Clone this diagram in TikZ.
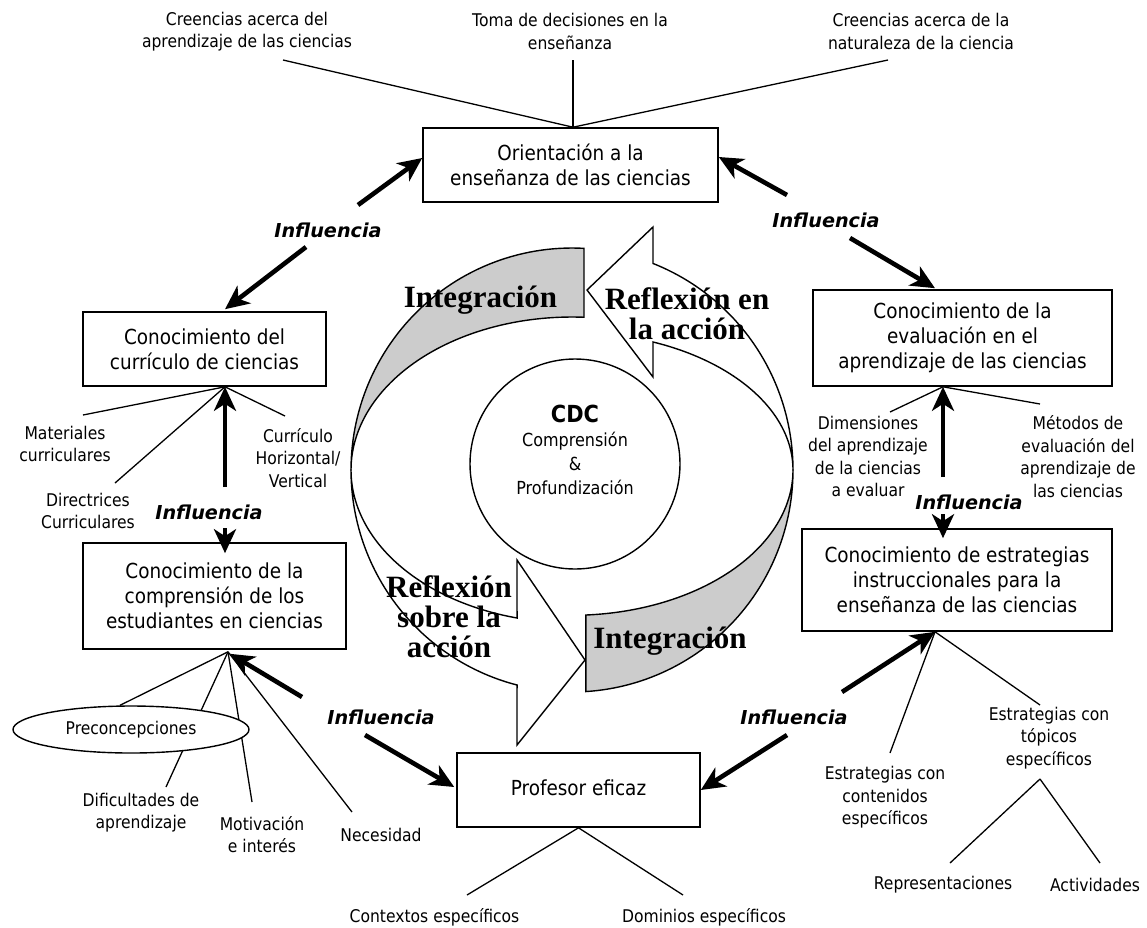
\documentclass[tikz,border=0pt]{standalone}
\usepackage{fontspec}
\setmainfont{DejaVu Sans}[FakeStretch=0.89]
\newfontfamily\inflfont{DejaVu Sans}
\newfontfamily\timesfont{Liberation Serif}
\usetikzlibrary{arrows.meta,calc,shapes.geometric}

\begin{document}
\begin{tikzpicture}[x=1pt,y=-1pt,
  box/.style={draw,line width=1.6pt,align=center,inner sep=0pt,fill=white,
              font=\fontsize{20.7}{25}\selectfont},
  lbl/.style={align=center,inner sep=0pt,font=\fontsize{17.5}{22.5}\selectfont},
  infl/.style={inner sep=0pt,font=\inflfont\fontsize{19.2}{22}\selectfont\bfseries\itshape},
  conn/.style={line width=1.3pt},
  inflarrow/.style={line width=4.6pt,-{Stealth[length=24pt,width=22pt,inset=7pt]}},
  band/.style={line width=1.4pt,line join=miter},
  bigtxt/.style={align=center,inner sep=0pt,font=\timesfont\bfseries\fontsize{31}{30}\selectfont}
]
\useasboundingbox (0,0) rectangle (1147,927);

% ---------- central cycle: two curved arrows and two grey bands ----------
% upper grey band
\draw[band,fill=gray!40]
  plot[domain=180:273.1,samples=60] ({572+221*cos(\x)},{470+222*sin(\x)})
  -- plot[domain=273.1:180,samples=60] ({572+221*cos(\x)},{470+153*sin(\x)}) -- cycle;
% upper white arrow pointing left
\draw[band,fill=white]
  plot[domain=360:291.5,samples=60] ({572+221*cos(\x)},{470+222*sin(\x)})
  -- (653,227) -- (587,290) -- (653,377)
  -- plot[domain=291.5:360,samples=60] ({572+221*cos(\x)},{470+137.6*sin(\x)}) -- cycle;
% lower white arrow pointing right
\draw[band,fill=white]
  plot[domain=180:104.4,samples=60] ({572+221*cos(\x)},{470+222*sin(\x)})
  -- (517,745) -- (585,660) -- (517,560)
  -- plot[domain=104.4:180,samples=60] ({572+221*cos(\x)},{470+152.8*sin(\x)}) -- cycle;
% lower grey band
\draw[band,fill=gray!40]
  plot[domain=0:86.4,samples=60] ({572+221*cos(\x)},{470+222*sin(\x)})
  -- plot[domain=86.4:0,samples=60] ({572+221*cos(\x)},{470+145.3*sin(\x)}) -- cycle;

% core circle
\node[circle,draw,line width=1.4pt,minimum size=210pt,inner sep=0pt] (cdc) at (575,464) {};
\node[align=center,inner sep=0pt,font=\fontsize{18}{24}\selectfont] (cdctext) at (575,450)
  {{\fontsize{23.5}{24}\selectfont\bfseries CDC}\\Comprensión\\\&\\Profundización};

% words on the cycle
\node[bigtxt] (integ1) at (480.5,300) {Integración};
\node[bigtxt] (refl1) at (687,314) {Reflexión en\\la acción};
\node[bigtxt] (refl2) at (449,617) {Reflexión\\sobre la\\acción};
\node[bigtxt] (integ2) at (670,641) {Integración};

% ---------- boxes ----------
\node[box,minimum width=295pt,minimum height=74pt] (orient) at (570.5,165)
  {Orientación a la\\enseñanza de las ciencias};
\node[box,minimum width=243pt,minimum height=74pt] (curric) at (204.5,349)
  {Conocimiento del\\currículo de ciencias};
\node[box,minimum width=263pt,minimum height=106pt] (compr) at (214.5,596)
  {Conocimiento de la\\comprensión de los\\estudiantes en ciencias};
\node[box,minimum width=299pt,minimum height=96pt] (evalua) at (962.5,338)
  {Conocimiento de la\\evaluación en el\\aprendizaje de las ciencias};
\node[box,minimum width=310pt,minimum height=102pt] (estrat) at (957,580)
  {Conocimiento de estrategias\\instruccionales para la\\enseñanza de las ciencias};
\node[box,minimum width=243pt,minimum height=74pt] (prof) at (578.5,790)
  {\raisebox{5pt}{Profesor eficaz}};

% ---------- descriptive labels ----------
\node[lbl] (t1) at (247,31.5) {Creencias acerca del\\aprendizaje de las ciencias};
\node[lbl] (t2) at (570,31.5) {Toma de decisiones en la\\enseñanza};
\node[lbl] (t3) at (921,31.5) {Creencias acerca de la\\naturaleza de la ciencia};
\node[lbl] (mat) at (65,444) {Materiales\\curriculares};
\node[lbl] (dir) at (88,511) {Directrices\\Curriculares};
\node[lbl] (cur) at (298,458) {Currículo\\Horizontal/\\Vertical};
\node[lbl] (dim) at (868,456.5) {Dimensiones\\del aprendizaje\\de la ciencias\\a evaluar};
\node[lbl] (met) at (1078,456.5) {Métodos de\\evaluación del\\aprendizaje de\\las ciencias};
\node[lbl] (ecc) at (885,797.5) {Estrategias con\\contenidos\\específicos};
\node[lbl] (etc) at (1049,738) {Estrategias con\\tópicos\\específicos};
\node[lbl] (rep) at (943,885) {Representaciones};
\node[lbl] (act) at (1095,885) {Actividades};
\node[lbl] (ctx) at (434.5,917) {Contextos específicos};
\node[lbl] (dom) at (704,917) {Dominios específicos};
\node[lbl] (dif) at (141,812.5) {Dificultades de\\aprendizaje};
\node[lbl] (mot) at (262,834.5) {Motivación\\e interés};
\node[lbl] (nec) at (381,835) {Necesidad};

% ---------- thin connectors ----------
\coordinate (t1e) at (283,60);
\coordinate (t2e) at (573,60);
\coordinate (t3e) at (888,60);
\coordinate (otop) at ($(orient.north)+(2.5,0)$);
\draw[conn] (t1e) -- (otop);
\draw[conn] (t2e) -- (otop);
\draw[conn] (t3e) -- (otop);

\coordinate (cub) at ($(curric.south)+(20.5,0)$);
\coordinate (mate) at (83,415);
\coordinate (dire) at (115,483);
\coordinate (cure) at (285,416);
\draw[conn] (cub) -- (mate);
\draw[conn] (cub) -- (dire);
\draw[conn] (cub) -- (cure);

\coordinate (evb) at ($(evalua.south)+(-19.5,0)$);
\coordinate (dime) at (890,412);
\coordinate (mete) at (1040,404);
\draw[conn] (evb) -- (dime);
\draw[conn] (evb) -- (mete);

\coordinate (esb) at ($(estrat.south)+(-22,0)$);
\coordinate (ecce) at (890,753);
\coordinate (etce) at (1040,705);
\coordinate (etcb) at (1040,779);
\coordinate (repe) at (950,863);
\coordinate (acte) at (1100,863);
\draw[conn] (esb) -- (ecce);
\draw[conn] (esb) -- (etce);
\draw[conn] (etcb) -- (repe);
\draw[conn] (etcb) -- (acte);

\coordinate (ctxe) at (467,895);
\coordinate (dome) at (683,895);
\draw[conn] (prof.south) -- (ctxe);
\draw[conn] (prof.south) -- (dome);

\coordinate (cob) at ($(compr.south)+(13.5,2)$);
\coordinate (dife) at (166,787);
\coordinate (mote) at (252,802);
\coordinate (nece) at (352,812);
\draw[conn] (cob) -- (dife);
\draw[conn] (cob) -- (mote);
\draw[conn] (cob) -- (nece);
\node[ellipse,draw,line width=1.4pt,fill=white,minimum width=236pt,minimum height=47pt,
      inner sep=0pt,font=\fontsize{17.5}{20}\selectfont] (precon) at (131,729.5) {Preconcepciones};
\draw[conn] (cob) -- ($(precon.north)+(-11,0)$);

% ---------- influence arrows ----------
\node[infl] (i1) at (328,230) {Influencia};
\node[infl] (i2) at (826,220) {Influencia};
\node[infl] (i3) at (209,512) {Influencia};
\node[infl] (i4) at (969,502) {Influencia};
\node[infl] (i5) at (381,717) {Influencia};
\node[infl] (i6) at (794,717) {Influencia};

\draw[inflarrow] ($(i1)+(30,-25)$) -- ($(orient.west)+(0,-7)$);
\draw[inflarrow] ($(i1)+(-22,17)$) -- ($(curric.north)+(20.5,-2)$);
\draw[inflarrow] ($(i2)+(-39,-25)$) -- ($(orient.east)+(0,-8)$);
\draw[inflarrow] ($(i2)+(24,18)$) -- ($(evalua.north)+(-27.5,-1)$);
\draw[inflarrow] ($(i3)+(16,-25)$) -- (cub);
\draw[inflarrow] ($(i3)+(16,16)$) -- ($(compr.north)+(10.5,11)$);
\draw[inflarrow] ($(i4)+(-26,-25)$) -- (evb);
\draw[inflarrow] ($(i4)+(-26,12)$) -- ($(estrat.north)+(-14,10)$);
\draw[inflarrow] ($(i5)+(-79,-20)$) -- ($(compr.south)+(15.5,4)$);
\draw[inflarrow] ($(i5)+(-16,18)$) -- ($(prof.west)+(-2,-3)$);
\draw[inflarrow] ($(i6)+(48,-25)$) -- (esb);
\draw[inflarrow] ($(i6)+(-7,18)$) -- (prof.east);
\end{tikzpicture}
\end{document}
